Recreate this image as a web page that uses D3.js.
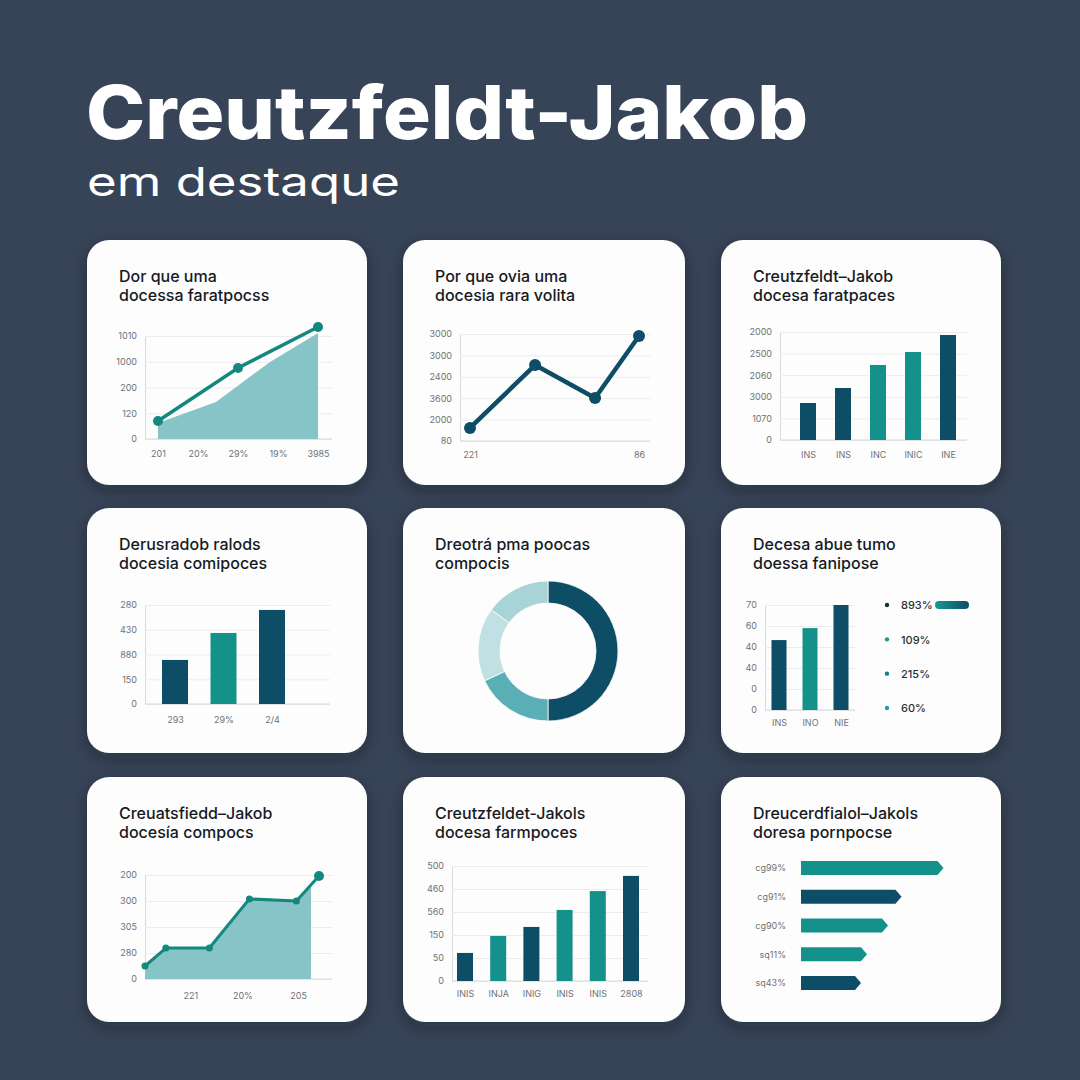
<!DOCTYPE html>
<html><head><meta charset="utf-8">
<script src="https://cdn.jsdelivr.net/npm/d3@7"></script>
<style>
html,body{margin:0;padding:0;background:#374357;}
svg{display:block;}
</style></head>
<body>
<svg id="chart" width="1080" height="1080"></svg>
<script>
// ---------------- DATA ----------------
const mainTitle = "Creutzfeldt-Jakob";
const subTitle = "em destaque";

const cardTitles = [
  ["Dor que uma", "docessa faratpocss"],
  ["Por que ovia uma", "docesia rara volita"],
  ["Creutzfeldt–Jakob", "docesa faratpaces"],
  ["Derusradob ralods", "docesia comipoces"],
  ["Dreotrá pma poocas", "compocis"],
  ["Decesa abue tumo", "doessa fanipose"],
  ["Creuatsfiedd–Jakob", "docesía compocs"],
  ["Creutzfeldet-Jakols", "docesa farmpoces"],
  ["Dreucerdfialol–Jakols", "doresa pornpocse"]
];

// Panel 1: area + line
const p1YTicks = [0, 100, 200, 300, 400];
const p1YLabels = ["0", "120", "200", "1000", "1010"];
const p1XTicks = [0, 1, 2, 3, 4];
const p1XLabels = ["201", "20%", "29%", "19%", "3985"];
const p1LineX = [0, 2, 4];
const p1LineY = [70, 276, 435];
const p1AreaX = [0, 1.45, 2.8, 4];
const p1AreaY = [62, 144, 299, 412];

// Panel 2: line
const p2YTicks = [0, 100, 200, 300, 400, 500];
const p2YLabels = ["80", "2000", "3600", "2400", "3000", "3000"];
const p2XTicks = [0, 10];
const p2XLabels = ["221", "86"];
const p2X = [0, 3.85, 7.4, 10];
const p2Y = [61, 355, 201, 491];

// Panel 3: bars
const p3YTicks = [0, 500, 1000, 1500, 2000, 2500];
const p3YLabels = ["0", "1070", "3000", "2060", "2500", "2000"];
const p3Cats = ["INS", "INS ", "INC", "INIC", "INE"];
const p3Vals = [856, 1204, 1736, 2037, 2430];
const p3Tone = ["d", "d", "t", "t", "d"];

// Panel 4: bars
const p4YTicks = [0, 100, 200, 300, 400];
const p4YLabels = ["0", "150", "880", "430", "280"];
const p4Cats = ["293", "29%", "2/4"];
const p4Vals = [178, 287, 380];
const p4Tone = ["d", "t", "d"];

// Panel 5: donut
const p5Vals = [50, 18, 17, 15];
const p5Colors = ["#0e4d66", "#5aafb6", "#c0e0e3", "#a8d4d8"];

// Panel 6: bars + legend
const p6YTicks = [0, 1, 2, 3, 4, 5];
const p6YLabels = ["0", "0", "40", "40", "60", "70"];
const p6Cats = ["INS", "INO", "NIE"];
const p6Vals = [3.33, 3.9, 5.0];
const p6Tone = ["d", "t", "d"];
const p6Legend = ["893%", "109%", "215%", "60%"];
const p6LegendTone = ["#163040", "#159a94", "#1a7d80", "#1aa39b"];

// Panel 7: line + area
const p7YTicks = [0, 100, 200, 300, 400];
const p7YLabels = ["0", "280", "305", "300", "200"];
const p7XTicks = [2.6, 5.6, 8.8];
const p7XLabels = ["221", "20%", "205"];
const p7X = [0, 1.2, 3.7, 6.0, 8.7, 10];
const p7Y = [50, 119, 119, 308, 300, 396];
const p7AreaX = [0, 1.2, 3.7, 6.0, 8.7, 9.54];
const p7AreaY = [50, 119, 119, 308, 300, 355];

// Panel 8: bars
const p8YTicks = [0, 100, 200, 300, 400, 500];
const p8YLabels = ["0", "50", "150", "560", "460", "500"];
const p8Cats = ["INIS", "INJA", "INIG", "INIS ", "INIS  ", "2808"];
const p8Vals = [122, 196, 235, 309, 391, 457];
const p8Tone = ["d", "t", "d", "t", "t", "d"];

// Panel 9: horizontal bars
const p9Cats = ["cg99%", "cg91%", "cg90%", "sq11%", "sq43%"];
const p9Vals = [95, 67, 58, 44, 40];
const p9Tone = ["t", "d", "t", "t", "d"];

// ---------------- STYLE ----------------
const DARK = "#0e4d66", TEAL = "#14918b", AREA = "#86c4c7", LINE_T = "#14877f";
const tone = t => t === "d" ? DARK : TEAL;
const FONT = "Inter, 'Open Sans', sans-serif";

const svg = d3.select("#chart");
const defs = svg.append("defs");
const f = defs.append("filter").attr("id", "sh").attr("x", "-20%").attr("y", "-20%").attr("width", "140%").attr("height", "150%");
f.append("feDropShadow").attr("dx", 0).attr("dy", 5).attr("stdDeviation", 8).attr("flood-color", "#0b1220").attr("flood-opacity", 0.35);
const gr = defs.append("linearGradient").attr("id", "pill");
gr.append("stop").attr("offset", "0%").attr("stop-color", "#169a93");
gr.append("stop").attr("offset", "100%").attr("stop-color", "#0e4d66");

svg.append("rect").attr("width", 1080).attr("height", 1080).attr("fill", "#374357");

// Main titles
svg.append("text").text(mainTitle).attr("x", 86).attr("y", 139)
  .attr("font-family", FONT).attr("font-weight", 800).attr("font-size", 74)
  .attr("fill", "#ffffff").attr("textLength", 722).attr("lengthAdjust", "spacingAndGlyphs");
svg.append("text").text(subTitle).attr("x", 87).attr("y", 196)
  .attr("font-family", FONT).attr("font-weight", 400).attr("font-size", 40)
  .attr("fill", "#ffffff").attr("textLength", 313).attr("lengthAdjust", "spacingAndGlyphs");

// Cards
const colX = [87, 403, 721], rowY = [240, 508, 777];
const cardW = 280, cardH = 245;
const cards = [];
for (let r = 0; r < 3; r++) for (let c = 0; c < 3; c++) {
  const g = svg.append("g").attr("transform", `translate(${colX[c]},${rowY[r]})`);
  g.append("rect").attr("width", c === 1 ? 282 : cardW).attr("height", cardH)
    .attr("rx", 22).attr("fill", "#fdfdfd").attr("filter", "url(#sh)");
  const i = r * 3 + c;
  const t = g.append("text").attr("font-family", FONT).attr("font-weight", 500)
    .attr("font-size", 16).attr("fill", "#161a1f");
  t.append("tspan").attr("x", 32).attr("y", 42).text(cardTitles[i][0]);
  t.append("tspan").attr("x", 32).attr("y", 61).text(cardTitles[i][1]);
  cards.push(g);
}

function yAxis(g, y, ticks, labels, left, right) {
  const ax = g.append("g").attr("transform", `translate(${left},0)`)
    .call(d3.axisLeft(y).tickValues(ticks).tickFormat((d, i) => labels[i])
      .tickSize(-(right - left)).tickSizeOuter(0).tickPadding(8));
  ax.select(".domain").attr("stroke", "#d9dcdf").attr("stroke-width", 1);
  ax.selectAll(".tick line").attr("stroke", "#ececee").attr("stroke-width", 1);
  ax.selectAll(".tick text").attr("fill", "#6e7276").attr("font-size", 9)
    .attr("font-family", FONT);
  return ax;
}
function baseLine(g, left, right, yb) {
  g.append("line").attr("x1", left).attr("x2", right).attr("y1", yb).attr("y2", yb)
    .attr("stroke", "#d6d9dc").attr("stroke-width", 1);
}
function xAxis(g, x, ticks, labels, yb, pad) {
  const ax = g.append("g").attr("transform", `translate(0,${yb})`)
    .call(d3.axisBottom(x).tickValues(ticks).tickFormat((d, i) => labels[i])
      .tickSize(0).tickPadding(pad || 8));
  ax.select(".domain").remove();
  ax.selectAll(".tick text").attr("fill", "#6e7276").attr("font-size", 9)
    .attr("font-family", FONT);
}

// ---- Panel 1 ----
{
  const g = cards[0];
  const L = 58, R = 245, T = 96, B = 199;
  const y = d3.scaleLinear().domain([0, 400]).range([B, T]);
  const x = d3.scaleLinear().domain([0, 4]).range([71, 231]);
  yAxis(g, y, p1YTicks, p1YLabels, L, R);
  baseLine(g, L, R, B);
  const area = d3.area().x(d => x(d[0])).y0(B).y1(d => y(d[1]));
  g.append("path").datum(d3.zip(p1AreaX, p1AreaY)).attr("d", area).attr("fill", AREA);
  const line = d3.line().x(d => x(d[0])).y(d => y(d[1]));
  const pts = d3.zip(p1LineX, p1LineY);
  g.append("path").datum(pts).attr("d", line).attr("fill", "none").attr("stroke", LINE_T).attr("stroke-width", 3.5);
  g.selectAll("circle.p").data(pts).join("circle").attr("cx", d => x(d[0])).attr("cy", d => y(d[1])).attr("r", 5).attr("fill", LINE_T);
  xAxis(g, x, p1XTicks, p1XLabels, B, 12);
}

// ---- Panel 2 ----
{
  const g = cards[1];
  const L = 57, R = 247, T = 94, B = 201;
  const y = d3.scaleLinear().domain([0, 500]).range([B, T]);
  const x = d3.scaleLinear().domain([0, 10]).range([67, 236]);
  yAxis(g, y, p2YTicks, p2YLabels, L, R);
  baseLine(g, L, R, B);
  const pts = d3.zip(p2X, p2Y);
  g.append("path").datum(pts).attr("d", d3.line().x(d => x(d[0])).y(d => y(d[1])))
    .attr("fill", "none").attr("stroke", DARK).attr("stroke-width", 4.5).attr("stroke-linejoin", "round");
  g.selectAll("circle.p").data(pts).join("circle").attr("cx", d => x(d[0])).attr("cy", d => y(d[1])).attr("r", 6).attr("fill", DARK);
  xAxis(g, x, p2XTicks, p2XLabels, B, 11);
}

// ---- Panel 3 ----
{
  const g = cards[2];
  const L = 59, R = 246, T = 92, B = 200;
  const y = d3.scaleLinear().domain([0, 2500]).range([B, T]);
  const x = d3.scalePoint().domain(p3Cats).range([87, 227]);
  yAxis(g, y, p3YTicks, p3YLabels, L, R);
  baseLine(g, L, R, B);
  g.selectAll("rect.b").data(p3Cats).join("rect").attr("x", d => x(d) - 8).attr("width", 16)
    .attr("y", (d, i) => y(p3Vals[i])).attr("height", (d, i) => B - y(p3Vals[i])).attr("fill", (d, i) => tone(p3Tone[i]));
  xAxis(g, x, p3Cats, p3Cats.map(s => s.trim()), B, 12);
}

// ---- Panel 4 ----
{
  const g = cards[3];
  const L = 58, R = 243, T = 97, B = 196;
  const y = d3.scaleLinear().domain([0, 400]).range([B, T]);
  const x = d3.scalePoint().domain(p4Cats).range([88, 185]);
  yAxis(g, y, p4YTicks, p4YLabels, L, R);
  baseLine(g, L, R, B);
  g.selectAll("rect.b").data(p4Cats).join("rect").attr("x", d => x(d) - 13).attr("width", 26)
    .attr("y", (d, i) => y(p4Vals[i])).attr("height", (d, i) => B - y(p4Vals[i])).attr("fill", (d, i) => tone(p4Tone[i]));
  xAxis(g, x, p4Cats, p4Cats, B, 13);
}

// ---- Panel 5 ----
{
  const g = cards[4].append("g").attr("transform", "translate(145,143)");
  const pie = d3.pie().sort(null).value(d => d);
  const arc = d3.arc().innerRadius(48).outerRadius(70);
  g.selectAll("path").data(pie(p5Vals)).join("path").attr("d", arc).attr("fill", (d, i) => p5Colors[i])
    .attr("stroke", "#fdfdfd").attr("stroke-width", 0.8);
}

// ---- Panel 6 ----
{
  const g = cards[5];
  const L = 44, R = 134, T = 97, B = 202;
  const y = d3.scaleLinear().domain([0, 5]).range([B, T]);
  const x = d3.scalePoint().domain(p6Cats).range([58, 120]);
  yAxis(g, y, p6YTicks, p6YLabels, L, R);
  baseLine(g, L, R, B);
  g.selectAll("rect.b").data(p6Cats).join("rect").attr("x", d => x(d) - 7.5).attr("width", 15)
    .attr("y", (d, i) => y(p6Vals[i])).attr("height", (d, i) => B - y(p6Vals[i])).attr("fill", (d, i) => tone(p6Tone[i]));
  xAxis(g, x, p6Cats, p6Cats, B, 10);
  const ly = d3.scalePoint().domain(p6Legend).range([97, 200]);
  const lg = g.selectAll("g.l").data(p6Legend).join("g").attr("transform", d => `translate(166,${ly(d)})`);
  lg.append("circle").attr("r", 2.2).attr("fill", (d, i) => p6LegendTone[i]);
  lg.append("text").text(d => d).attr("x", 14).attr("y", 4.2).attr("font-family", FONT)
    .attr("font-size", 11).attr("font-weight", 500).attr("fill", "#2a2f35");
  g.append("rect").attr("x", 214).attr("y", ly(p6Legend[0]) - 4).attr("width", 34).attr("height", 8).attr("rx", 4).attr("fill", "url(#pill)");
}

// ---- Panel 7 ----
{
  const g = cards[6];
  const L = 58, R = 245, T = 98, B = 202;
  const y = d3.scaleLinear().domain([0, 400]).range([B, T]);
  const x = d3.scaleLinear().domain([0, 10]).range([58, 232]);
  yAxis(g, y, p7YTicks, p7YLabels, L, R);
  baseLine(g, L, R, B);
  g.append("path").datum(d3.zip(p7AreaX, p7AreaY))
    .attr("d", d3.area().x(d => x(d[0])).y0(B).y1(d => y(d[1]))).attr("fill", AREA);
  const pts = d3.zip(p7X, p7Y);
  g.append("path").datum(pts).attr("d", d3.line().x(d => x(d[0])).y(d => y(d[1])))
    .attr("fill", "none").attr("stroke", LINE_T).attr("stroke-width", 3).attr("stroke-linejoin", "round");
  g.selectAll("circle.p").data(pts).join("circle").attr("cx", d => x(d[0])).attr("cy", d => y(d[1]))
    .attr("r", (d, i) => i === pts.length - 1 ? 5 : 3.5).attr("fill", LINE_T);
  xAxis(g, x, p7XTicks, p7XLabels, B, 14);
}

// ---- Panel 8 ----
{
  const g = cards[7];
  const L = 49, R = 245, T = 89, B = 204;
  const y = d3.scaleLinear().domain([0, 500]).range([B, T]);
  const x = d3.scalePoint().domain(p8Cats).range([62, 228]);
  yAxis(g, y, p8YTicks, p8YLabels, L, R);
  baseLine(g, L, R, B);
  g.selectAll("rect.b").data(p8Cats).join("rect").attr("x", d => x(d) - 8).attr("width", 16)
    .attr("y", (d, i) => y(p8Vals[i])).attr("height", (d, i) => B - y(p8Vals[i])).attr("fill", (d, i) => tone(p8Tone[i]));
  xAxis(g, x, p8Cats, p8Cats.map(s => s.trim()), B, 10);
}

// ---- Panel 9 ----
{
  const g = cards[8];
  const x = d3.scaleLinear().domain([0, 100]).range([80, 230]);
  const y = d3.scalePoint().domain(p9Cats).range([91, 206]);
  const h = 14, tip = 6;
  g.selectAll("path.b").data(p9Cats).join("path")
    .attr("d", (d, i) => {
      const x0 = x(0), x1 = x(p9Vals[i]), yc = y(d);
      return `M${x0},${yc - h / 2}L${x1 - tip},${yc - h / 2}L${x1},${yc}L${x1 - tip},${yc + h / 2}L${x0},${yc + h / 2}Z`;
    })
    .attr("fill", (d, i) => tone(p9Tone[i]));
  const ax = g.append("g").attr("transform", "translate(65,0)")
    .call(d3.axisLeft(y).tickSize(0).tickPadding(0));
  ax.select(".domain").remove();
  ax.selectAll(".tick text").attr("fill", "#6e7276").attr("font-size", 9).attr("font-family", FONT);
}
</script>
</body></html>
